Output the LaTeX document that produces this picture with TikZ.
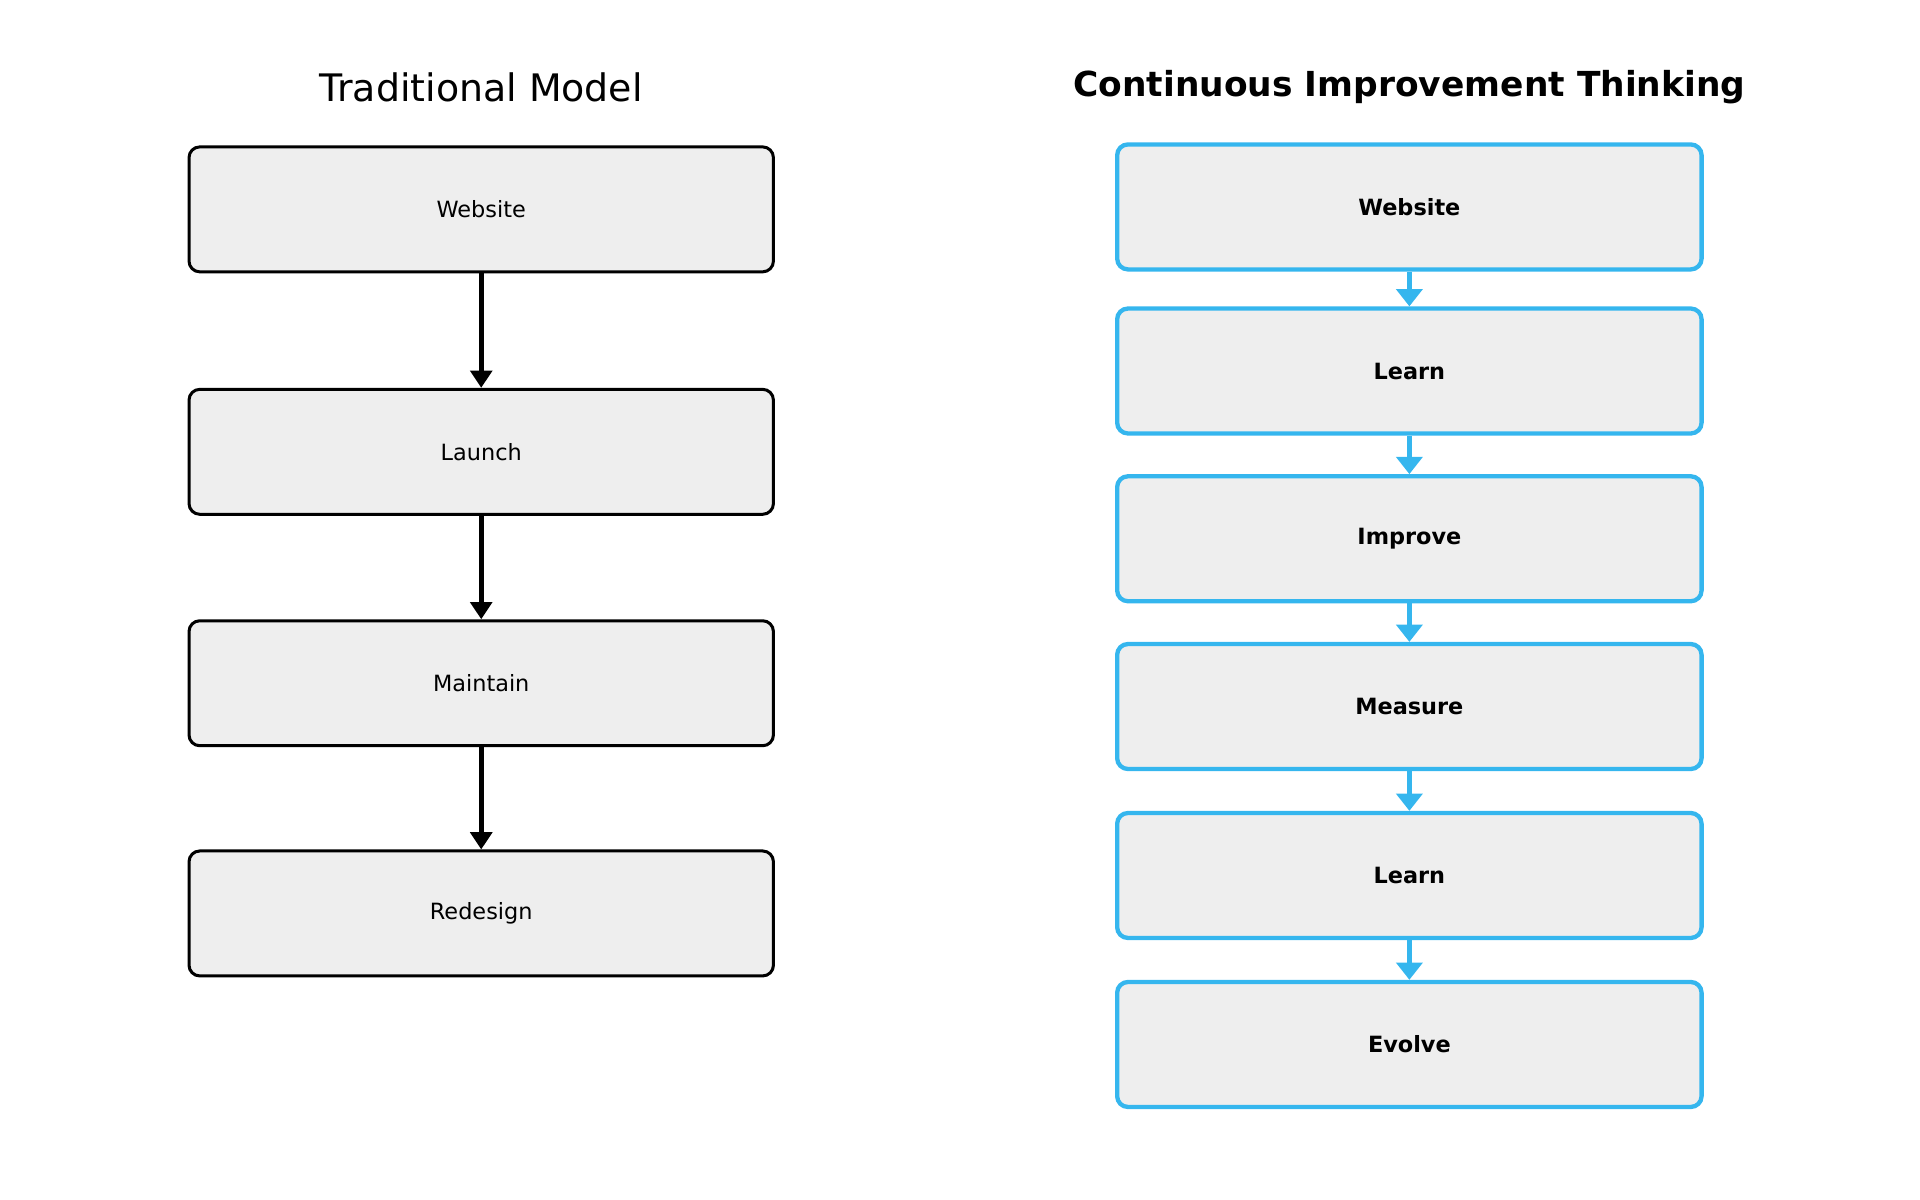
\documentclass[tikz,border=0pt]{standalone}
\usepackage{fontspec}
\setmainfont{DejaVu Sans}
\usetikzlibrary{positioning,arrows.meta}
\definecolor{ciblue}{HTML}{35B6EE}
\definecolor{boxgray}{HTML}{EEEEEE}
\begin{document}
\begin{tikzpicture}
				[
				x=0.01cm, y=-0.01cm, >={Triangle[width=5pt,length=4pt]},
				%Stile
				oldbox/.style={draw=black, line width=0.7pt, fill=boxgray, rounded corners=2.5pt, minimum width=4.77cm, minimum height=1.02cm, font=\fontsize{5.2}{6}\selectfont},
				newbox/.style={draw=ciblue, line width=1pt, fill=boxgray, rounded corners=2.5pt, minimum width=4.77cm, minimum height=1.02cm, font=\fontsize{5.2}{6}\selectfont\bfseries},
				oldarrow/.style={->, line width=1.2pt, black},
				newarrow/.style={-{Triangle[width=6pt,length=4pt]}, line width=1.2pt, ciblue}
				]
				\useasboundingbox (0,0) rectangle (1568,980);
				%Titel
				\node[font=\fontsize{8.8}{11}\selectfont] (toldtitle) at (393,71) {Traditional Model};
				\node[font=\fontsize{8}{11}\selectfont\bfseries] (tnewtitle) at (1151,71) {Continuous Improvement Thinking};
				%Traditionelles Modell
				\node[oldbox] (owebsite) at (393,171) {Website};
				\node[oldbox] (olaunch) at (393,369) {Launch};
				\node[oldbox] (omaintain) at (393,558) {Maintain};
				\node[oldbox] (oredesign) at (393,746) {Redesign};
				\draw[oldarrow] (owebsite) -- (olaunch);
				\draw[oldarrow] (olaunch) -- (omaintain);
				\draw[oldarrow] (omaintain) -- (oredesign);
				%Kontinuierliche Verbesserung
				\node[newbox] (nwebsite) at (1151,169) {Website};
				\node[newbox] (nlearna) at (1151,303) {Learn};
				\node[newbox] (nimprove) at (1151,440) {Improve};
				\node[newbox] (nmeasure) at (1151,577) {Measure};
				\node[newbox] (nlearnb) at (1151,715) {Learn};
				\node[newbox] (nevolve) at (1151,853) {Evolve};
				\foreach \a/\b in {nwebsite/nlearna, nlearna/nimprove, nimprove/nmeasure, nmeasure/nlearnb, nlearnb/nevolve}
					\draw[newarrow] (\a) -- (\b);
			\end{tikzpicture}
\end{document}
